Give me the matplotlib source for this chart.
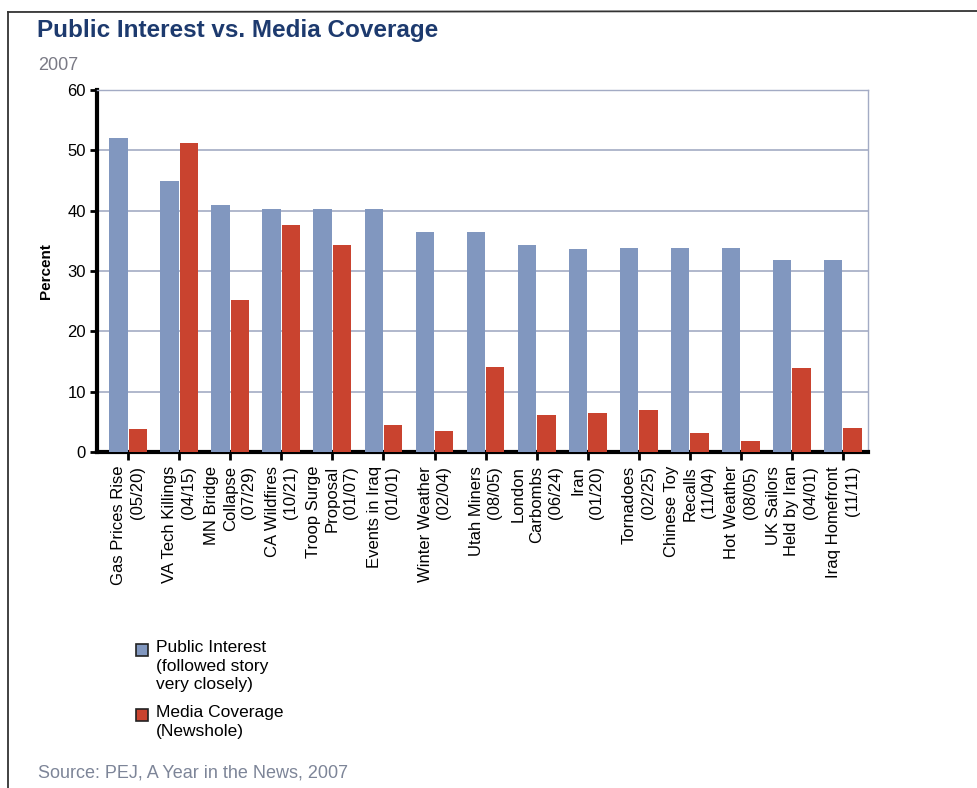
import matplotlib
matplotlib.use("Agg")
import matplotlib.pyplot as plt
from matplotlib.patches import Rectangle
from matplotlib.lines import Line2D
import numpy as np

plt.rcParams['font.family'] = ['Liberation Sans', 'DejaVu Sans']

categories = [
    "Gas Prices Rise\n(05/20)",
    "VA Tech Killings\n(04/15)",
    "MN Bridge\nCollapse\n(07/29)",
    "CA Wildfires\n(10/21)",
    "Troop Surge\nProposal\n(01/07)",
    "Events in Iraq\n(01/01)",
    "Winter Weather\n(02/04)",
    "Utah Miners\n(08/05)",
    "London\nCarbombs\n(06/24)",
    "Iran\n(01/20)",
    "Tornadoes\n(02/25)",
    "Chinese Toy\nRecalls\n(11/04)",
    "Hot Weather\n(08/05)",
    "UK Sailors\nHeld by Iran\n(04/01)",
    "Iraq Homefront\n(11/11)",
]
public_interest = [52, 45, 41, 40.3, 40.3, 40.3, 36.5, 36.5, 34.3, 33.7, 33.8, 33.8, 33.8, 31.8, 31.8]
media_coverage = [3.8, 51.2, 25.2, 37.7, 34.3, 4.5, 3.5, 14.1, 6.1, 6.5, 6.9, 3.1, 1.8, 14.0, 3.9]
series_labels = ["Public Interest\n(followed story\nvery closely)", "Media Coverage\n(Newshole)"]
yticks = [0, 10, 20, 30, 40, 50, 60]

W, H = 978, 788
fig = plt.figure(figsize=(W / 100, H / 100), dpi=100)

def fx(px):
    return px / W

def fy(py):
    return 1 - py / H

blue = "#8197bf"
red = "#c9432f"

ax = fig.add_axes([fx(97), fy(452), fx(868) - fx(97), fy(90) - fy(452)])
x = np.arange(len(categories))
w = 0.36
ax.bar(x - w / 2 - 0.01, public_interest, width=w, color=blue, zorder=3, linewidth=0)
ax.bar(x + w / 2 + 0.01, media_coverage, width=w, color=red, zorder=3, linewidth=0)

ax.set_xlim(-0.61, 14.49)
ax.set_ylim(0, 60)
ax.set_yticks(yticks)
ax.set_yticklabels([str(v) for v in yticks], fontsize=12)
ax.yaxis.grid(True, color="#a3abc4", linewidth=1.2, zorder=0)
ax.set_axisbelow(True)

ax.set_xticks(x)
ax.set_xticklabels(categories, rotation=90, fontsize=12, ha='center', va='top',
                   multialignment='right', linespacing=1.3)

for s in ['left', 'bottom']:
    ax.spines[s].set_linewidth(3)
    ax.spines[s].set_color('black')
for s in ['top', 'right']:
    ax.spines[s].set_linewidth(1)
    ax.spines[s].set_color('#a3abc4')
ax.tick_params(axis='y', direction='out', length=5, width=2, pad=3)
ax.tick_params(axis='x', direction='out', length=6, width=2, pad=4)

ax.set_ylabel("Percent", fontsize=11, fontweight='bold', labelpad=10)

# Title and subtitle
fig.text(fx(37), fy(30), "Public Interest vs. Media Coverage", fontsize=17.5, fontweight='bold',
         color="#1d3a6e", ha='left', va='center')
fig.text(fx(38), fy(65), "2007", fontsize=13, color="#7a7a85", ha='left', va='center')

# Legend (manual)
legend_items = [(blue, series_labels[0], 650), (red, series_labels[1], 715)]
for col, lab, ypx in legend_items:
    fig.patches.append(Rectangle((fx(136), fy(ypx + 6)), fx(12), fy(ypx - 6) - fy(ypx + 6),
                                 transform=fig.transFigure, facecolor=col, edgecolor='#222222',
                                 linewidth=1.2))
    fig.text(fx(156), fy(ypx - 10), lab, fontsize=12.5, ha='left', va='top', linespacing=1.3)

fig.text(fx(38), fy(773), "Source: PEJ, A Year in the News, 2007", fontsize=13,
         color="#7d8598", ha='left', va='center')

# Frame
fig.add_artist(Line2D([fx(8), fx(978)], [fy(12), fy(11)], transform=fig.transFigure,
                      color='#333333', linewidth=1.3))
fig.add_artist(Line2D([fx(8), fx(8)], [fy(12), fy(788)], transform=fig.transFigure,
                      color='#333333', linewidth=1.3))

fig.savefig("out.png", dpi=100, facecolor='white')
